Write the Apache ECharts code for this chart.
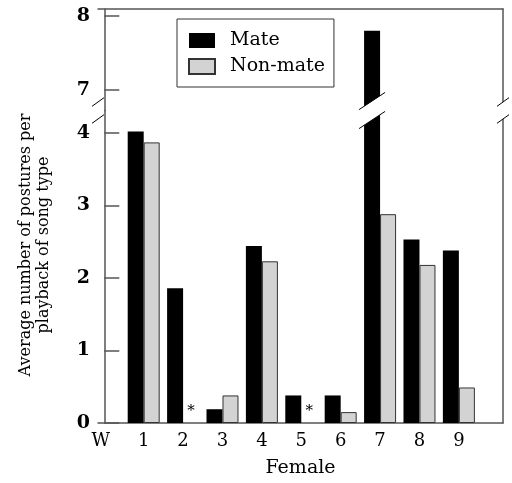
<!DOCTYPE html>
<html>
<head>
<meta charset="utf-8">
<script src="https://cdn.jsdelivr.net/npm/echarts@6/dist/echarts.min.js"></script>
<style>
html, body { margin: 0; padding: 0; background: #fff; }
#chart { width: 512px; height: 483px; }
</style>
</head>
<body>
<div id="chart"></div>
<script>
// average postures per playback, females 1-9 (null = not tested, shown as *)
const females = [1, 2, 3, 4, 5, 6, 7, 8, 9]
const mate = [4.02, 1.86, 0.19, 2.44, 0.38, 0.38, 7.8, 2.53, 2.38]
const nonMate = [3.87, null, 0.38, 2.23, null, 0.15, 2.88, 2.18, 0.49]

// x labels ('W' sits at the origin)
const xTickValues = [-0.09, 1, 2, 3, 4, 5, 6, 7, 8, 9]
const xTickLabels = ['W', '1', '2', '3', '4', '5', '6', '7', '8', '9']
const xRange = [-0.16, 10.12]

// broken y axis: upper and lower parts
const upperTicks = [7, 8]
const upperRange = [6.72, 8.095]
const lowerTicks = [0, 1, 2, 3, 4]
const lowerRange = [0, 4.31]

const font = 'DejaVu Serif'
const lineColor = '#555'
const barW = 16

const chart = echarts.init(document.getElementById('chart'))

const plainAxis = {
  axisLine: { show: true, lineStyle: { color: lineColor, width: 1.5 } },
  axisTick: { show: false },
  axisLabel: { show: false },
  splitLine: { show: false }
}

function upperData(arr) {
  return females.map((f, i) => [f, arr[i] != null && arr[i] > upperRange[0] ? arr[i] : '-'])
}

const mateStyle = { color: '#000' }
const nonMateStyle = { color: '#d3d3d3', borderColor: '#333', borderWidth: 1 }

chart.setOption({
  animation: false,
  grid: [
    { left: 98, right: 9, top: 9, height: 101.5 },
    { left: 98, right: 9, top: 110.5, bottom: 60 }
  ],
  legend: {
    left: 177,
    top: 19,
    orient: 'vertical',
    data: ['Mate', 'Non-mate'],
    icon: 'rect',
    itemWidth: 26,
    itemHeight: 15,
    itemGap: 7,
    padding: [12, 9, 11, 11],
    borderColor: '#333',
    borderWidth: 1,
    textStyle: { fontFamily: font, fontSize: 19, color: '#000', padding: [0, 0, 0, 10] }
  },
  xAxis: [
    Object.assign({ type: 'value', gridIndex: 0, position: 'top', min: xRange[0], max: xRange[1] }, plainAxis),
    {
      type: 'value',
      gridIndex: 1,
      position: 'bottom',
      min: xRange[0],
      max: xRange[1],
      name: 'Female',
      nameLocation: 'middle',
      nameGap: 36,
      nameTextStyle: { fontFamily: font, fontSize: 19, color: '#000' },
      axisLine: { show: true, lineStyle: { color: lineColor, width: 1.5 } },
      axisTick: { show: false },
      splitLine: { show: false },
      axisLabel: {
        customValues: xTickValues,
        formatter: v => xTickLabels[xTickValues.indexOf(v)],
        margin: 9,
        fontFamily: font,
        fontSize: 18,
        color: '#000'
      }
    }
  ],
  yAxis: [
    {
      type: 'value',
      gridIndex: 0,
      min: upperRange[0],
      max: upperRange[1],
      axisLine: { show: true, lineStyle: { color: lineColor, width: 1.5 } },
      axisTick: { show: true, inside: true, length: 15, customValues: upperTicks, lineStyle: { color: lineColor, width: 1.5 } },
      axisLabel: { customValues: upperTicks, margin: 8, fontFamily: font, fontSize: 19, fontWeight: 'bold', color: '#000' },
      splitLine: { show: false }
    },
    Object.assign({ type: 'value', gridIndex: 0, position: 'right', min: upperRange[0], max: upperRange[1] }, plainAxis),
    {
      type: 'value',
      gridIndex: 1,
      min: lowerRange[0],
      max: lowerRange[1],
      axisLine: { show: true, lineStyle: { color: lineColor, width: 1.5 } },
      axisTick: { show: true, inside: true, length: 15, customValues: lowerTicks, lineStyle: { color: lineColor, width: 1.5 } },
      axisLabel: { customValues: lowerTicks, margin: 8, fontFamily: font, fontSize: 19, fontWeight: 'bold', color: '#000' },
      splitLine: { show: false }
    },
    Object.assign({ type: 'value', gridIndex: 1, position: 'right', min: lowerRange[0], max: lowerRange[1] }, plainAxis)
  ],
  series: [
    {
      name: 'Mate', type: 'bar', xAxisIndex: 0, yAxisIndex: 0,
      barWidth: barW, barGap: '0%', itemStyle: mateStyle,
      data: upperData(mate)
    },
    {
      name: 'Non-mate', type: 'bar', xAxisIndex: 0, yAxisIndex: 0,
      barWidth: barW, barGap: '0%', itemStyle: nonMateStyle,
      data: upperData(nonMate)
    },
    {
      name: 'Mate', type: 'bar', xAxisIndex: 1, yAxisIndex: 2,
      barWidth: barW, barGap: '0%', itemStyle: mateStyle,
      data: females.map((f, i) => [f, mate[i]])
    },
    {
      name: 'Non-mate', type: 'bar', xAxisIndex: 1, yAxisIndex: 2,
      barWidth: barW, barGap: '0%', itemStyle: nonMateStyle,
      data: females.map((f, i) => nonMate[i] != null ? [f, nonMate[i]] : {
        value: [f, 0],
        itemStyle: { borderWidth: 0 },
        label: { show: true, position: 'top', distance: 4, formatter: '*', fontFamily: font, fontSize: 15, color: '#000' }
      })
    }
  ]
})

// break marks (white gap between two slashes) on both axes and on the tall bar
function breakMark(cx, cy, w, h, k) {
  const p1 = [cx - w, cy - h + k * w], p2 = [cx + w, cy - h - k * w]
  const p3 = [cx + w, cy + h - k * w], p4 = [cx - w, cy + h + k * w]
  return [
    { type: 'polygon', z: 100, shape: { points: [p1, p2, p3, p4] }, style: { fill: '#fff' } },
    { type: 'line', z: 101, shape: { x1: p1[0], y1: p1[1], x2: p2[0], y2: p2[1] }, style: { stroke: '#000', lineWidth: 1 } },
    { type: 'line', z: 101, shape: { x1: p4[0], y1: p4[1], x2: p3[0], y2: p3[1] }, style: { stroke: '#000', lineWidth: 1 } }
  ]
}

const cy = chart.convertToPixel({ yAxisIndex: 2 }, lowerRange[1])
const leftX = chart.convertToPixel({ xAxisIndex: 1 }, xRange[0])
const rightX = chart.convertToPixel({ xAxisIndex: 1 }, xRange[1])
const tallIdx = mate.indexOf(Math.max(...mate))
const tallX = chart.convertToPixel({ xAxisIndex: 1 }, females[tallIdx]) - barW / 2

chart.setOption({
  graphic: [
    ...breakMark(leftX, cy, 6, 8.5, 0.72),
    ...breakMark(rightX, cy, 6, 8.5, 0.72),
    ...breakMark(tallX, cy, 13, 9.5, 0.66),
    {
      type: 'text',
      x: 35,
      y: 245,
      rotation: Math.PI / 2,
      style: {
        text: 'Average number of postures per\nplayback of song type',
        font: '16px "DejaVu Serif"',
        lineHeight: 18,
        textAlign: 'center',
        textVerticalAlign: 'middle',
        fill: '#000'
      }
    }
  ]
})
</script>
</body>
</html>
